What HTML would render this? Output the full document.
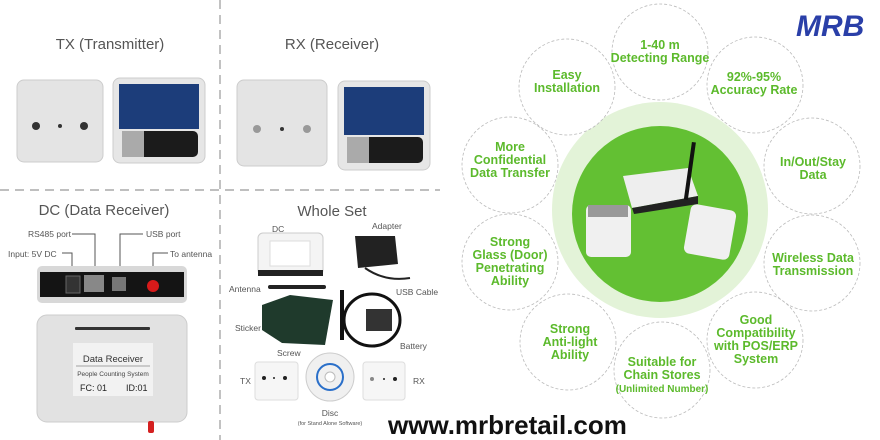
<!DOCTYPE html>
<html><head><meta charset="utf-8"><style>
html,body{margin:0;padding:0;background:#fff;}
svg{display:block;}
text{font-family:"Liberation Sans","DejaVu Sans",sans-serif;}
.g{fill:#5cba2c;font-weight:bold;font-size:12.5px;text-anchor:middle;}
.t{fill:#555;font-size:15px;text-anchor:middle;}
.s{fill:#555;font-size:8.5px;}
</style></head><body>
<svg width="880" height="440" viewBox="0 0 880 440" xmlns="http://www.w3.org/2000/svg">
<rect width="880" height="440" fill="#fff"/>
<line x1="220" y1="0" x2="220" y2="440" stroke="#999" stroke-width="1.2" stroke-dasharray="9,6"/>
<line x1="0" y1="190" x2="440" y2="190" stroke="#999" stroke-width="1.2" stroke-dasharray="9,6"/>
<text class="t" x="110" y="49">TX (Transmitter)</text>
<text class="t" x="332" y="49">RX (Receiver)</text>
<text class="t" x="104" y="215">DC (Data Receiver)</text>
<text class="t" x="332" y="216">Whole Set</text>
<rect x="17" y="80" width="86" height="82" rx="7" fill="#e4e4e4" stroke="#ccc"/>
<circle cx="36" cy="126" r="4" fill="#333"/><circle cx="60" cy="126" r="2" fill="#333"/><circle cx="84" cy="126" r="4" fill="#333"/>
<rect x="113" y="78" width="92" height="85" rx="7" fill="#e6e6e6" stroke="#ccc"/>
<rect x="119" y="84" width="80" height="45" fill="#1c3d7a"/>
<rect x="122" y="131" width="76" height="26" rx="5" fill="#1b1b1b"/>
<rect x="122" y="131" width="22" height="26" fill="#aaa"/>
<rect x="237" y="80" width="90" height="86" rx="7" fill="#e4e4e4" stroke="#ccc"/>
<circle cx="257" cy="129" r="4" fill="#999"/><circle cx="282" cy="129" r="2" fill="#333"/><circle cx="307" cy="129" r="4" fill="#999"/>
<rect x="338" y="81" width="92" height="89" rx="7" fill="#e6e6e6" stroke="#ccc"/>
<rect x="344" y="87" width="80" height="48" fill="#1c3d7a"/>
<rect x="347" y="137" width="76" height="26" rx="5" fill="#1b1b1b"/>
<rect x="347" y="137" width="22" height="26" fill="#aaa"/>
<g stroke="#555" stroke-width="1" fill="none">
<polyline points="72,234 95,234 95,270"/>
<polyline points="62,253 72,253 72,272"/>
<polyline points="143,234 120,234 120,272"/>
<polyline points="168,253 153,253 153,272"/>
</g>
<text class="s" x="28" y="237">RS485 port</text>
<text class="s" x="146" y="237">USB port</text>
<text class="s" x="8" y="257">Input: 5V DC</text>
<text class="s" x="170" y="257">To antenna</text>
<rect x="37" y="266" width="150" height="37" rx="5" fill="#d8d8d8"/>
<rect x="40" y="272" width="144" height="25" fill="#141414"/>
<rect x="66" y="276" width="14" height="17" fill="#333" stroke="#666"/>
<rect x="84" y="275" width="20" height="17" fill="#888"/>
<rect x="112" y="277" width="14" height="14" fill="#777"/>
<circle cx="153" cy="286" r="6" fill="#d71a1a"/>
<rect x="37" y="315" width="150" height="107" rx="10" fill="#e2e2e2" stroke="#ccc"/>
<rect x="75" y="327" width="75" height="3" rx="1" fill="#333"/>
<rect x="73" y="343" width="80" height="53" fill="#f2f2f2"/>
<text x="113" y="362" font-size="9.5" fill="#333" text-anchor="middle">Data Receiver</text>
<line x1="76" y1="366" x2="150" y2="366" stroke="#555" stroke-width="0.6"/>
<text x="113" y="376" font-size="6.5" fill="#444" text-anchor="middle">People Counting System</text>
<text x="80" y="391" font-size="9" fill="#222">FC: 01</text>
<text x="126" y="391" font-size="9" fill="#222">ID:01</text>
<rect x="148" y="421" width="6" height="12" rx="2" fill="#d42020"/>
<text class="s" x="272" y="232">DC</text>
<rect x="258" y="233" width="65" height="42" rx="5" fill="#f4f4f4" stroke="#ccc"/>
<rect x="258" y="270" width="65" height="6" fill="#222"/>
<rect x="270" y="241" width="40" height="25" fill="#fff" stroke="#ddd"/>
<text class="s" x="372" y="229">Adapter</text>
<path d="M355 236 L395 236 L398 264 L358 268 Z" fill="#222"/>
<path d="M365 268 Q385 282 410 278" stroke="#222" stroke-width="2" fill="none"/>
<text class="s" x="229" y="292">Antenna</text>
<rect x="268" y="285" width="58" height="4" rx="2" fill="#222"/>
<text class="s" x="396" y="295">USB Cable</text>
<path d="M262 305 L290 295 L333 300 L325 345 L282 343 L262 330 Z" fill="#1f3a2c"/>
<ellipse cx="372" cy="320" rx="28" ry="26" fill="none" stroke="#111" stroke-width="3"/>
<rect x="340" y="290" width="4" height="50" fill="#111"/>
<rect x="366" y="309" width="26" height="22" fill="#333"/>
<text class="s" x="235" y="331">Sticker</text>
<text class="s" x="277" y="356">Screw</text>
<text class="s" x="400" y="349">Battery</text>
<rect x="255" y="362" width="43" height="38" rx="3" fill="#f6f6f6" stroke="#ddd"/>
<circle cx="264" cy="378" r="2" fill="#222"/><circle cx="274" cy="378" r="1" fill="#222"/><circle cx="285" cy="378" r="2" fill="#222"/>
<text class="s" x="240" y="384">TX</text>
<circle cx="330" cy="377" r="24" fill="#f0f0f0" stroke="#ccc"/>
<circle cx="330" cy="377" r="13" fill="none" stroke="#2a6fc9" stroke-width="2"/>
<circle cx="330" cy="377" r="5" fill="#fff" stroke="#bbb"/>
<rect x="363" y="362" width="42" height="38" rx="3" fill="#f6f6f6" stroke="#ddd"/>
<circle cx="372" cy="379" r="2" fill="#888"/><circle cx="384" cy="379" r="1" fill="#222"/><circle cx="395" cy="379" r="2" fill="#222"/>
<text class="s" x="413" y="384">RX</text>
<text class="s" x="330" y="416" text-anchor="middle">Disc</text>
<text x="330" y="425" font-size="5.5" fill="#555" text-anchor="middle">(for Stand Alone Software)</text>
<text x="388" y="434" font-size="26" font-weight="bold" fill="#111">www.mrbretail.com</text>
<text x="796" y="36" font-size="30" font-style="italic" font-weight="bold" fill="#2a3fa8" font-family="Liberation Serif,serif">MRB</text>
<circle cx="660" cy="210" r="108" fill="#e3f3d8"/>
<circle cx="660" cy="214" r="88" fill="#63c033"/>
<g fill="#fff" stroke="#bbb" stroke-width="0.8" stroke-dasharray="3,2">
<circle cx="660" cy="52" r="48"/>
<circle cx="567" cy="87" r="48"/>
<circle cx="755" cy="85" r="48"/>
<circle cx="510" cy="165" r="48"/>
<circle cx="812" cy="166" r="48"/>
<circle cx="510" cy="262" r="48"/>
<circle cx="812" cy="263" r="48"/>
<circle cx="568" cy="342" r="48"/>
<circle cx="662" cy="370" r="48"/>
<circle cx="755" cy="340" r="48"/>
</g>
<path d="M623 176 L688 168 L698 196 L632 208 Z" fill="#eee"/>
<path d="M632 208 L698 196 L698 204 L634 214 Z" fill="#222"/>
<rect x="688" y="142" width="4" height="58" fill="#111" transform="rotate(8 690 170)"/>
<rect x="586" y="205" width="45" height="52" rx="5" fill="#f0f0f0"/>
<rect x="588" y="205" width="40" height="12" fill="#999"/>
<rect x="687" y="207" width="46" height="50" rx="6" fill="#f0f0f0" transform="rotate(10 710 232)"/>
<g>
<text class="g" x="660" y="49">1-40 m</text><text class="g" x="660" y="62">Detecting Range</text>
<text class="g" x="567" y="79">Easy</text><text class="g" x="567" y="92">Installation</text>
<text class="g" x="754" y="81">92%-95%</text><text class="g" x="754" y="94">Accuracy Rate</text>
<text class="g" x="510" y="151">More</text><text class="g" x="510" y="164">Confidential</text><text class="g" x="510" y="177">Data Transfer</text>
<text class="g" x="813" y="166">In/Out/Stay</text><text class="g" x="813" y="179">Data</text>
<text class="g" x="510" y="246">Strong</text><text class="g" x="510" y="259">Glass (Door)</text><text class="g" x="510" y="272">Penetrating</text><text class="g" x="510" y="285">Ability</text>
<text class="g" x="813" y="262">Wireless Data</text><text class="g" x="813" y="275">Transmission</text>
<text class="g" x="570" y="333">Strong</text><text class="g" x="570" y="346">Anti-light</text><text class="g" x="570" y="359">Ability</text>
<text class="g" x="662" y="366">Suitable for</text><text class="g" x="662" y="379">Chain Stores</text>
<text class="g" x="662" y="392" style="font-size:10px">(Unlimited Number)</text>
<text class="g" x="756" y="324">Good</text><text class="g" x="756" y="337">Compatibility</text><text class="g" x="756" y="350">with POS/ERP</text><text class="g" x="756" y="363">System</text>
</g>
</svg>
</body></html>
